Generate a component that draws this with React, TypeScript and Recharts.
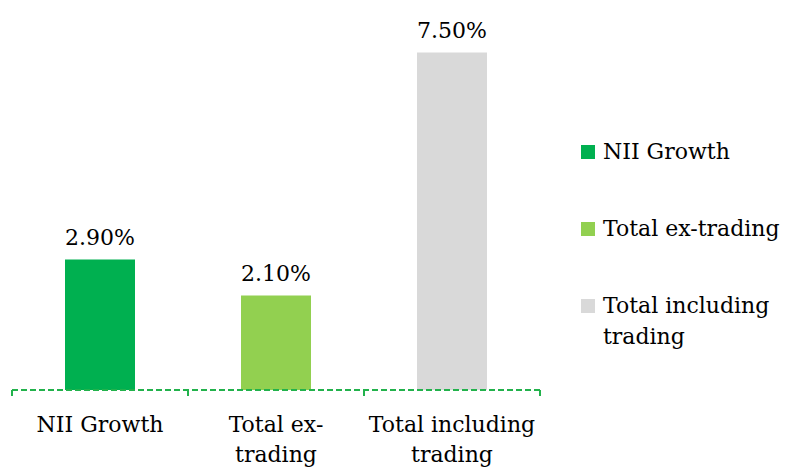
import React from "react";
import { BarChart, Bar, XAxis, YAxis, Cell, LabelList } from "recharts";

const categories = ["NII Growth", "Total ex-trading", "Total including trading"];
const growthValues = [2.9, 2.1, 7.5];
const barColors = ["#00B050", "#92D050", "#D9D9D9"];

const FONT = "'DejaVu Serif', serif";
const FONT_SIZE = 22;
const AXIS_GREEN = "#22B24C";

const CHART_W = 787;
const CHART_H = 468;
const MARGIN = { top: 30, right: 247, left: 12, bottom: 18 };
const PLOT_W = CHART_W - MARGIN.left - MARGIN.right;
const BAND = PLOT_W / categories.length;

const data = categories.map((name, i) => ({
  name,
  value: growthValues[i],
  color: barColors[i],
}));

// split a label into lines of at most maxChars, breaking at spaces or after hyphens
const wrapLabel = (text: string, maxChars: number) => {
  const parts = text.match(/[^\s-]+-?/g) || [text];
  const lines: string[] = [];
  let cur = "";
  parts.forEach((p) => {
    const joiner = cur === "" || cur.endsWith("-") ? "" : " ";
    if ((cur + joiner + p).length > maxChars && cur !== "") {
      lines.push(cur);
      cur = p;
    } else {
      cur = cur + joiner + p;
    }
  });
  if (cur) lines.push(cur);
  return lines;
};

const CategoryTick = (props: any) => {
  const { x, y, payload, index } = props;
  const lines = wrapLabel(String(payload.value), 15);
  const left = x - BAND / 2;
  const right = x + BAND / 2;
  return (
    <g>
      <line x1={left} y1={y} x2={left} y2={y + 8} stroke={AXIS_GREEN} strokeWidth={2} strokeDasharray="6 3" />
      {index === categories.length - 1 && (
        <line x1={right} y1={y} x2={right} y2={y + 8} stroke={AXIS_GREEN} strokeWidth={2} strokeDasharray="6 3" />
      )}
      <text x={x} y={y} textAnchor="middle" fontFamily={FONT} fontSize={FONT_SIZE} fill="#000">
        {lines.map((l, i) => (
          <tspan key={i} x={x} dy={i === 0 ? 42 : 30}>
            {l}
          </tspan>
        ))}
      </text>
    </g>
  );
};

const LegendBox = () => (
  <div style={{ position: "absolute", left: 581, top: 136, width: 206, fontFamily: FONT, fontSize: FONT_SIZE, color: "#000" }}>
    {data.map((d) => (
      <div key={d.name} style={{ display: "flex", alignItems: "flex-start", height: 77 }}>
        <div style={{ width: 14, height: 14, background: d.color, marginTop: 9, marginRight: 8, flexShrink: 0 }} />
        <div style={{ lineHeight: "31px", whiteSpace: "nowrap" }}>
          {wrapLabel(d.name, 16).map((l, i) => (
            <div key={i}>{l}</div>
          ))}
        </div>
      </div>
    ))}
  </div>
);

export default function App() {
  return (
    <div style={{ position: "absolute", left: 0, top: 0, width: CHART_W, height: CHART_H, background: "#fff", overflow: "hidden" }}>
      <BarChart width={CHART_W} height={CHART_H} data={data} margin={MARGIN}>
        <XAxis
          dataKey="name"
          height={60}
          interval={0}
          tickSize={0}
          tickMargin={0}
          tick={<CategoryTick />}
          axisLine={{ stroke: AXIS_GREEN, strokeWidth: 2, strokeDasharray: "6 3" }}
        />
        <YAxis hide domain={[0, 8]} />
        <Bar dataKey="value" barSize={70} isAnimationActive={false}>
          {data.map((d) => (
            <Cell key={d.name} fill={d.color} />
          ))}
          <LabelList
            dataKey="value"
            position="top"
            offset={15}
            formatter={(v: any) => `${Number(v).toFixed(2)}%`}
            style={{ fontFamily: FONT, fontSize: FONT_SIZE, fill: "#000" }}
          />
        </Bar>
      </BarChart>
      <LegendBox />
    </div>
  );
}
